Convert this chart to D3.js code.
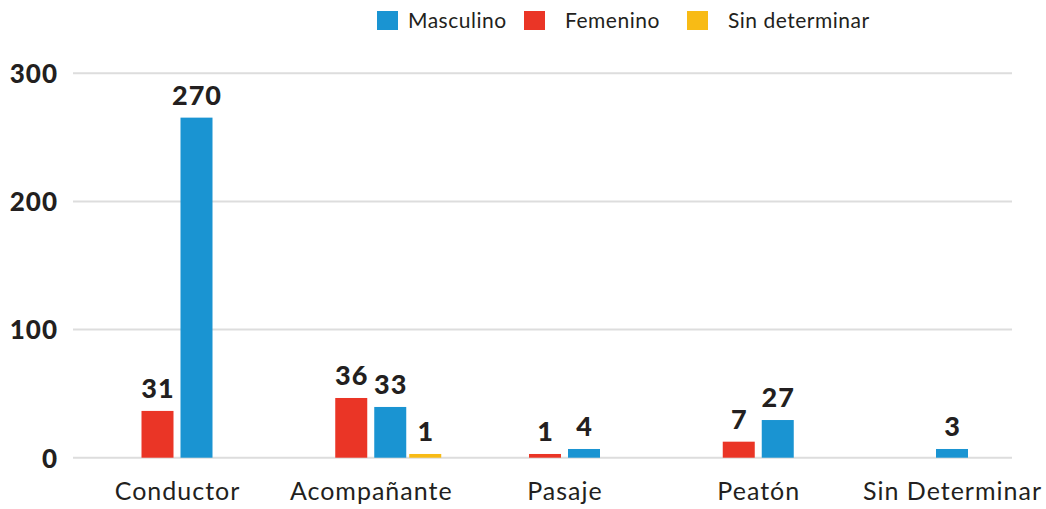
<!DOCTYPE html>
<html><head><meta charset="utf-8">
<script src="https://cdn.jsdelivr.net/npm/d3@7"></script>
<style>body{margin:0;background:#fff;}svg{display:block;}</style>
</head><body><svg id="chart" width="1046" height="509"></svg>
<script>
const categories = ["Conductor", "Acompañante", "Pasaje", "Peatón", "Sin Determinar"];
const seriesNames = ["Masculino", "Femenino", "Sin determinar"];
// bar heights as drawn in the picture
const masculino = [265.4, 39.6, 6.8, 29.4, 6.8];
const femenino = [36.5, 46.6, 2.9, 12.5, null];
const sinDeterminar = [null, 2.9, null, null, null];
// value labels as printed
const masculinoLabels = ["270", "33", "4", "27", "3"];
const femeninoLabels = ["31", "36", "1", "7", null];
const sinDeterminarLabels = [null, "1", null, null, null];
const yTicks = [0, 100, 200, 300];

const colors = {"Masculino": "#1a94d2", "Femenino": "#ea3526", "Sin determinar": "#f8bb15"};
const textColor = "#231f20";
const FONT = "Lato, 'Open Sans', sans-serif";

const svg = d3.select("#chart");
const left = 73, right = 1012;
const x = d3.scalePoint().domain(categories).range([177, 952]);
const y = d3.scaleLinear().domain([0, 300]).range([457.7, 73.3]);

// gridlines
svg.append("g").selectAll("line").data(yTicks).join("line")
  .attr("x1", left).attr("x2", right)
  .attr("y1", d => y(d)).attr("y2", d => y(d))
  .attr("stroke", "#dddddd").attr("stroke-width", 2);

// y axis labels
const yAxis = d3.axisLeft(y).tickValues(yTicks).tickSize(0).tickPadding(0);
const ya = svg.append("g").attr("transform", "translate(58,0)").call(yAxis);
ya.select(".domain").remove();
ya.selectAll("text").attr("font-family", FONT).attr("font-weight", 900)
  .attr("font-size", 26).attr("letter-spacing", 1).attr("fill", textColor).attr("dy", "0.36em");

// x axis labels
const xAxis = d3.axisBottom(x).tickSize(0).tickPadding(0);
const xa = svg.append("g").attr("transform", "translate(0,500)").call(xAxis);
xa.select(".domain").remove();
xa.selectAll("text").attr("font-family", FONT).attr("font-weight", 400)
  .attr("font-size", 25).attr("letter-spacing", 1).attr("fill", textColor).attr("dy", 0);

// bars
const barW = 32, pairGap = 7, extraGap = 3;
const bars = [];
categories.forEach((c, i) => {
  const main = [["Femenino", femenino[i], femeninoLabels[i]], ["Masculino", masculino[i], masculinoLabels[i]]]
    .filter(d => d[1] != null);
  const n = main.length;
  const total = n * barW + (n - 1) * pairGap;
  const inner = d3.scaleBand().domain(main.map(d => d[0]))
    .range([-total / 2, total / 2]).paddingInner(n > 1 ? pairGap / (barW + pairGap) : 0);
  main.forEach(d => bars.push({cat: c, key: d[0], value: d[1], label: d[2], x0: x(c) + inner(d[0]), w: inner.bandwidth()}));
  if (sinDeterminar[i] != null) {
    bars.push({cat: c, key: "Sin determinar", value: sinDeterminar[i], label: sinDeterminarLabels[i],
      x0: x(c) + total / 2 + extraGap, w: barW});
  }
});

svg.append("g").selectAll("rect").data(bars).join("rect")
  .attr("x", d => d.x0).attr("width", d => d.w)
  .attr("y", d => y(d.value)).attr("height", d => y(0) - y(d.value))
  .attr("fill", d => colors[d.key]);

svg.append("g").selectAll("text").data(bars).join("text")
  .attr("x", d => d.x0 + d.w / 2 + 0.5).attr("y", d => y(d.value) - 13)
  .attr("text-anchor", "middle").attr("font-family", FONT).attr("font-weight", 900)
  .attr("font-size", 27).attr("letter-spacing", 1).attr("fill", textColor).text(d => d.label);

// legend
const legendX = {"Masculino": 377, "Femenino": 524, "Sin determinar": 687};
const lg = svg.append("g").selectAll("g").data(seriesNames).join("g")
  .attr("transform", d => `translate(${legendX[d]},11)`);
lg.append("rect").attr("width", 21).attr("height", 19).attr("fill", d => colors[d]);
lg.append("text").attr("x", d => d === "Masculino" ? 31 : 41).attr("y", 17)
  .attr("font-family", FONT).attr("font-size", 21).attr("letter-spacing", 0.5)
  .attr("fill", textColor).text(d => d);
</script></body></html>
